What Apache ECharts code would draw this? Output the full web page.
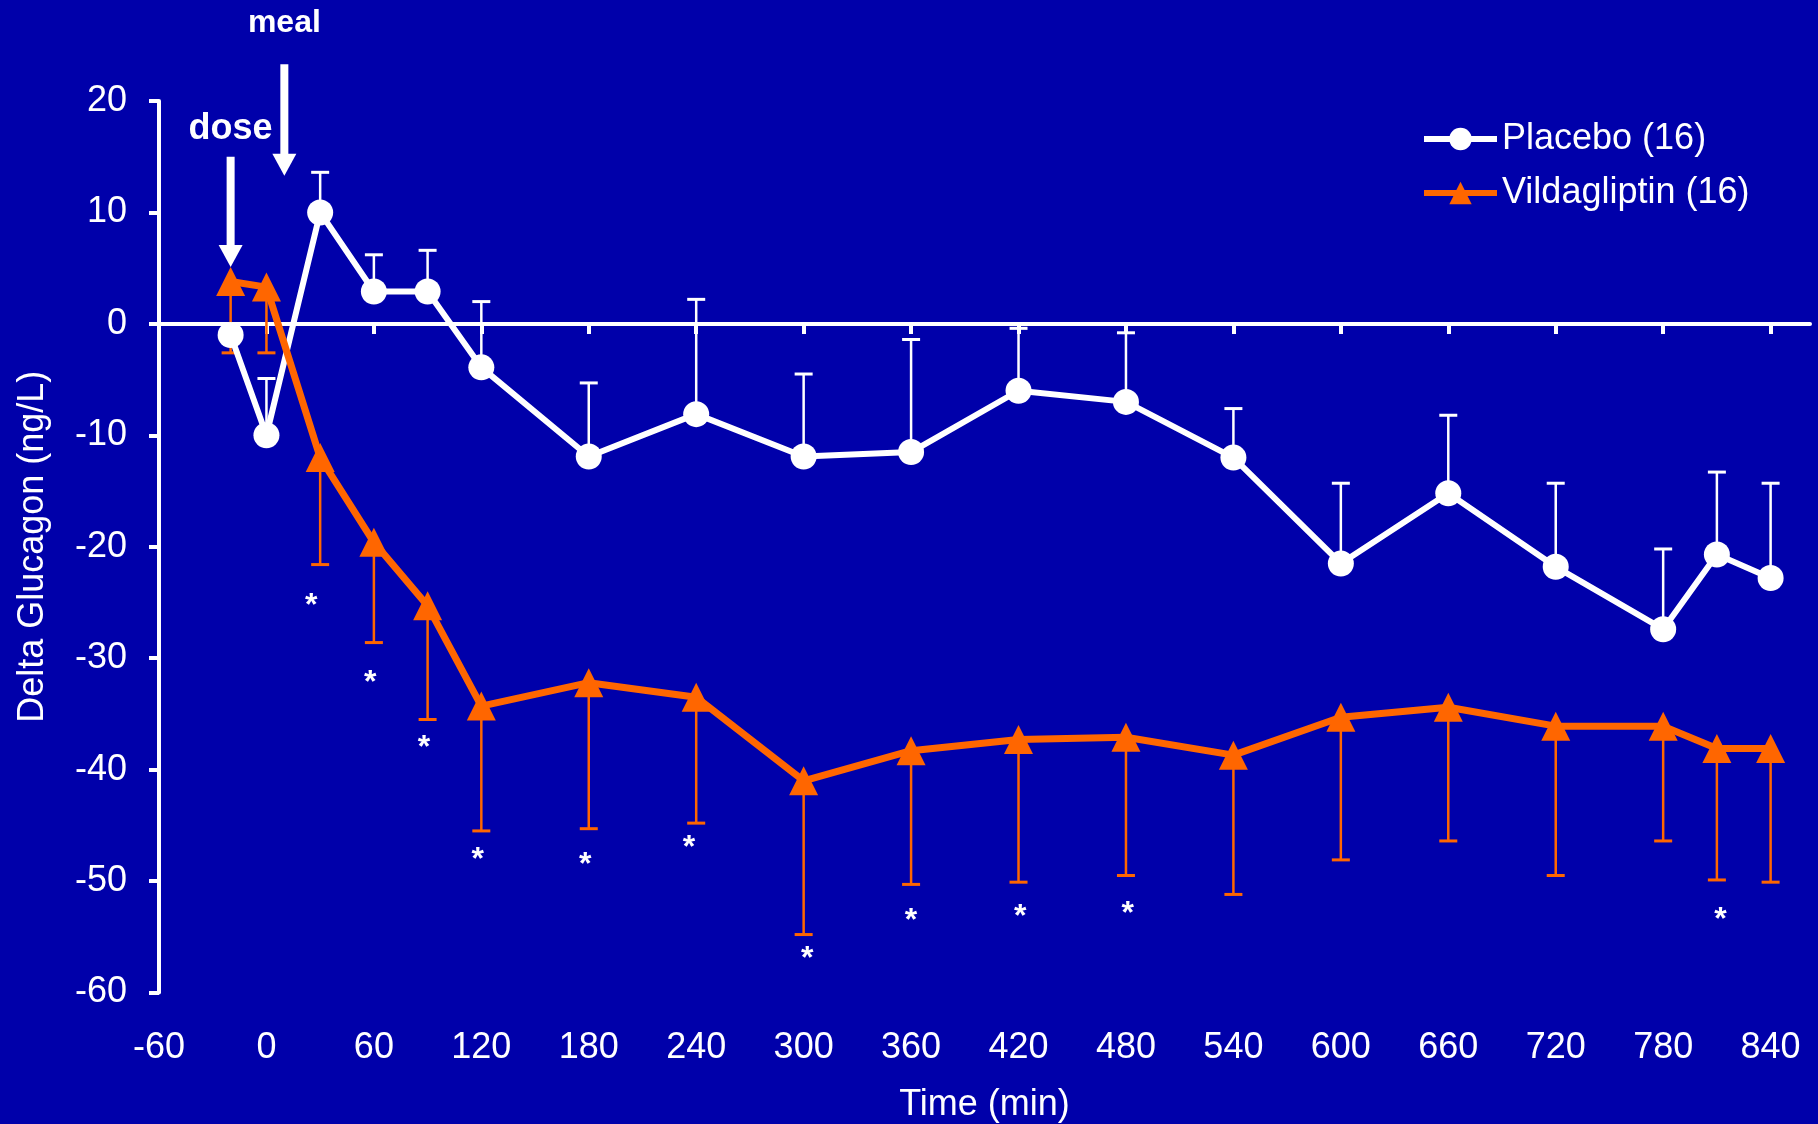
<!DOCTYPE html>
<html>
<head>
<meta charset="utf-8">
<title>Delta Glucagon</title>
<script src="https://cdn.jsdelivr.net/npm/echarts@6/dist/echarts.min.js"></script>
<style>
    html, body { margin: 0; padding: 0; background: #0000aa; }
    #chart { width: 1818px; height: 1124px; }
</style>
</head>
<body>
<div id="chart"></div>
<script>
// sampling times (min)
var times = [-20, 0, 30, 60, 90, 120, 180, 240, 300, 360, 420, 480, 540, 600, 660, 720, 780, 810, 840];

// Placebo: mean and top of the error bar
var placebo = [-1.0, -10.0, 10.0, 2.9, 2.9, -3.9, -11.9, -8.1, -11.9, -11.5, -6.0, -7.0, -12.0, -21.5, -15.2, -21.8, -27.4, -20.7, -22.8];
var placeboUpper = [null, -4.9, 13.6, 6.2, 6.6, 2.0, -5.3, 2.2, -4.5, -1.4, -0.4, -0.8, -7.6, -14.3, -8.2, -14.3, -20.2, -13.3, -14.3];

// Vildagliptin: mean and bottom of the error bar
var vilda = [3.8, 3.3, -12.0, -19.6, -25.3, -34.3, -32.2, -33.5, -41.0, -38.3, -37.3, -37.1, -38.7, -35.3, -34.4, -36.1, -36.1, -38.1, -38.1];
var vildaLower = [-2.6, -2.6, -21.6, -28.6, -35.5, -45.5, -45.3, -44.8, -54.8, -50.3, -50.1, -49.5, -51.2, -48.1, -46.4, -49.5, -46.4, -49.9, -50.1];

// significance stars [time, value]
var stars = [[25, -24.8], [58, -31.7], [88, -37.5], [118, -47.6], [178, -48.0], [236, -46.5],
             [302, -56.5], [360, -53.1], [421, -52.7], [481, -52.4], [812, -53.0]];

// dose / meal arrows: [time, top value, tip value]
var arrows = [[-20, 15.0, 5.1], [10, 23.3, 13.3]];
var noteText = ['dose', 'meal'];
var notePos = [[-20, 17.5], [10, 27.0]];

var xTicks = [-60, 0, 60, 120, 180, 240, 300, 360, 420, 480, 540, 600, 660, 720, 780, 840];
var seriesNames = ['Placebo (16)', 'Vildagliptin (16)'];

var FONT = '"Liberation Sans", Arial, sans-serif';
var ORANGE = '#ff6600';

function zip(a, b) {
    var out = [];
    for (var k = 0; k < a.length; k++) {
        out.push([a[k], b[k]]);
    }
    return out;
}

function errData(means, ends) {
    var out = [];
    for (var k = 0; k < times.length; k++) {
        if (ends[k] != null) out.push([times[k], means[k], ends[k]]);
    }
    return out;
}

function errRender(color) {
    return function (params, api) {
        var x = api.value(0);
        var p0 = api.coord([x, api.value(1)]);
        var p1 = api.coord([x, api.value(2)]);
        return {
            type: 'group',
            children: [
                { type: 'line', shape: { x1: p0[0], y1: p0[1], x2: p1[0], y2: p1[1] },
                  style: { stroke: color, lineWidth: 2.5 } },
                { type: 'line', shape: { x1: p1[0] - 9, y1: p1[1], x2: p1[0] + 9, y2: p1[1] },
                  style: { stroke: color, lineWidth: 3 } }
            ]
        };
    };
}

var chart = echarts.init(document.getElementById('chart'));

var option = {
    backgroundColor: '#0000aa',
    animation: false,
    textStyle: { fontFamily: FONT },
    grid: { left: 159, right: 8, top: 101, bottom: 131.5, outerBoundsMode: 'none' },
    legend: {
        data: seriesNames,
        orient: 'vertical',
        left: 1416,
        top: 116,
        itemWidth: 73,
        itemHeight: 28,
        itemGap: 18,
        lineStyle: { width: 6 },
        textStyle: { color: '#fff', fontSize: 36, fontFamily: FONT }
    },
    xAxis: [{
        type: 'value',
        min: -60,
        max: 862,
        position: 'bottom',
        name: 'Time (min)',
        nameLocation: 'middle',
        nameGap: 95,
        nameTextStyle: { color: '#fff', fontSize: 36, fontFamily: FONT },
        axisLine: { show: false, onZero: false },
        axisTick: { show: false },
        splitLine: { show: false },
        axisLabel: { customValues: xTicks, color: '#fff', fontSize: 36, fontFamily: FONT, margin: 38 }
    }, {
        // zero line with ticks
        type: 'value',
        min: -60,
        max: 862,
        position: 'top',
        axisLine: { show: true, onZero: true, lineStyle: { color: '#fff', width: 4 } },
        axisTick: { show: true, inside: true, length: 10, customValues: xTicks,
                    lineStyle: { color: '#fff', width: 4 } },
        axisLabel: { show: false },
        splitLine: { show: false }
    }],
    yAxis: {
        type: 'value',
        min: -60,
        max: 20,
        interval: 10,
        name: 'Delta Glucagon (ng/L)',
        nameLocation: 'middle',
        nameGap: 108,
        nameTextStyle: { color: '#fff', fontSize: 36, fontFamily: FONT },
        axisLine: { show: true, onZero: false, lineStyle: { color: '#fff', width: 4 } },
        axisTick: { show: true, length: 10, lineStyle: { color: '#fff', width: 4 } },
        splitLine: { show: false },
        axisLabel: { color: '#fff', fontSize: 36, fontFamily: FONT, margin: 32 }
    },
    series: [{
        name: 'placebo-err',
        type: 'custom',
        z: 1,
        silent: true,
        renderItem: errRender('#fff'),
        encode: { x: 0, y: [1, 2] },
        data: errData(placebo, placeboUpper)
    }, {
        name: 'vilda-err',
        type: 'custom',
        z: 1,
        silent: true,
        renderItem: errRender(ORANGE),
        encode: { x: 0, y: [1, 2] },
        data: errData(vilda, vildaLower)
    }, {
        name: seriesNames[0],
        type: 'line',
        symbol: 'circle',
        symbolSize: 26,
        color: '#fff',
        lineStyle: { color: '#fff', width: 6 },
        itemStyle: { color: '#fff' },
        data: zip(times, placebo)
    }, {
        name: seriesNames[1],
        type: 'line',
        symbol: 'triangle',
        symbolSize: 29,
        color: ORANGE,
        lineStyle: { color: ORANGE, width: 7 },
        itemStyle: { color: ORANGE },
        data: zip(times, vilda)
    }, {
        name: 'stars',
        type: 'custom',
        z: 3,
        silent: true,
        renderItem: function (params, api) {
            var p = api.coord([api.value(0), api.value(1)]);
            return {
                type: 'text',
                x: p[0],
                y: p[1] + 6,
                style: { text: '*', fill: '#fff', font: 'bold 32px ' + FONT, align: 'center', verticalAlign: 'middle' }
            };
        },
        data: stars
    }, {
        name: 'arrows',
        type: 'custom',
        z: 4,
        silent: true,
        renderItem: function (params, api) {
            var x = api.value(0);
            var p0 = api.coord([x, api.value(1)]);
            var p1 = api.coord([x, api.value(2)]);
            var headH = 22, headW = 24, shaftW = 8;
            return {
                type: 'group',
                children: [
                    { type: 'rect', shape: { x: p0[0] - shaftW / 2, y: p0[1], width: shaftW, height: p1[1] - headH - p0[1] + 1 },
                      style: { fill: '#fff' } },
                    { type: 'polygon', shape: { points: [[p1[0] - headW / 2, p1[1] - headH], [p1[0] + headW / 2, p1[1] - headH], [p1[0], p1[1]]] },
                      style: { fill: '#fff' } }
                ]
            };
        },
        data: arrows
    }, {
        name: 'notes',
        type: 'custom',
        z: 4,
        silent: true,
        renderItem: function (params, api) {
            var p = api.coord([api.value(0), api.value(1)]);
            var size = params.dataIndex === 0 ? 36 : 32;
            return {
                type: 'text',
                x: p[0],
                y: p[1],
                style: { text: noteText[params.dataIndex], fill: '#fff', font: 'bold ' + size + 'px ' + FONT,
                         align: 'center', verticalAlign: 'middle' }
            };
        },
        data: notePos
    }]
};

chart.setOption(option);
</script>
</body>
</html>
